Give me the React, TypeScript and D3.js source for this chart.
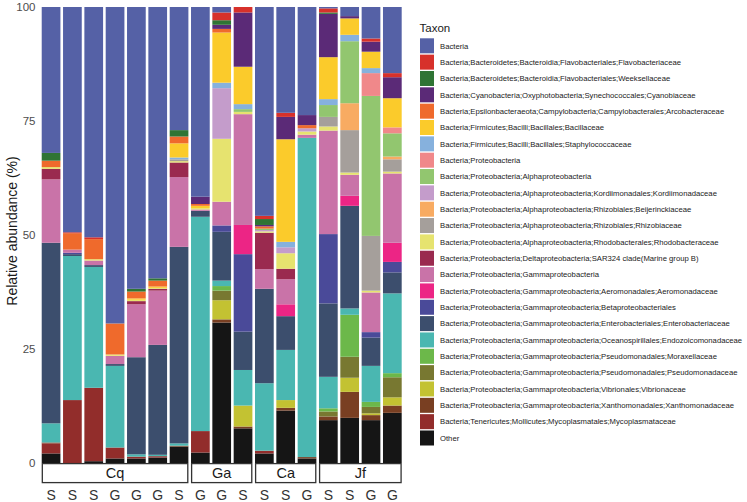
import React from 'react';
import * as d3 from 'd3';

// taxa, legend order (top of stack first)
const taxa = [
  'Bacteria',
  'Bacteria;Bacteroidetes;Bacteroidia;Flavobacteriales;Flavobacteriaceae',
  'Bacteria;Bacteroidetes;Bacteroidia;Flavobacteriales;Weeksellaceae',
  'Bacteria;Cyanobacteria;Oxyphotobacteria;Synechococcales;Cyanobiaceae',
  'Bacteria;Epsilonbacteraeota;Campylobacteria;Campylobacterales;Arcobacteraceae',
  'Bacteria;Firmicutes;Bacilli;Bacillales;Bacillaceae',
  'Bacteria;Firmicutes;Bacilli;Bacillales;Staphylococcaceae',
  'Bacteria;Proteobacteria',
  'Bacteria;Proteobacteria;Alphaproteobacteria',
  'Bacteria;Proteobacteria;Alphaproteobacteria;Kordiimonadales;Kordiimonadaceae',
  'Bacteria;Proteobacteria;Alphaproteobacteria;Rhizobiales;Beijerinckiaceae',
  'Bacteria;Proteobacteria;Alphaproteobacteria;Rhizobiales;Rhizobiaceae',
  'Bacteria;Proteobacteria;Alphaproteobacteria;Rhodobacterales;Rhodobacteraceae',
  'Bacteria;Proteobacteria;Deltaproteobacteria;SAR324 clade(Marine group B)',
  'Bacteria;Proteobacteria;Gammaproteobacteria',
  'Bacteria;Proteobacteria;Gammaproteobacteria;Aeromonadales;Aeromonadaceae',
  'Bacteria;Proteobacteria;Gammaproteobacteria;Betaproteobacteriales',
  'Bacteria;Proteobacteria;Gammaproteobacteria;Enterobacteriales;Enterobacteriaceae',
  'Bacteria;Proteobacteria;Gammaproteobacteria;Oceanospirillales;Endozoicomonadaceae',
  'Bacteria;Proteobacteria;Gammaproteobacteria;Pseudomonadales;Moraxellaceae',
  'Bacteria;Proteobacteria;Gammaproteobacteria;Pseudomonadales;Pseudomonadaceae',
  'Bacteria;Proteobacteria;Gammaproteobacteria;Vibrionales;Vibrionaceae',
  'Bacteria;Proteobacteria;Gammaproteobacteria;Xanthomonadales;Xanthomonadaceae',
  'Bacteria;Tenericutes;Mollicutes;Mycoplasmatales;Mycoplasmataceae',
  'Other',
];

const taxonColors = [
  '#5561a6', '#d7312b', '#2f7434', '#5b2a77', '#ef6a2c', '#fbcb2b', '#86b1dd',
  '#f0888a', '#92c66f', '#c49ccb', '#f8ab62', '#a59f9b', '#e6e36f', '#9a2a4f',
  '#c973a8', '#ec2585', '#4a4a99', '#3c4e6d', '#4ab7b1', '#6cb84a', '#787831',
  '#c3c232', '#793f22', '#922d2b', '#151515',
];

const groups = ['Cq', 'Ga', 'Ca', 'Jf'];
const sampleGroup = ['Cq', 'Cq', 'Cq', 'Cq', 'Cq', 'Cq', 'Cq', 'Ga', 'Ga', 'Ga', 'Ca', 'Ca', 'Ca', 'Jf', 'Jf', 'Jf', 'Jf'];
const sampleType = ['S', 'S', 'S', 'G', 'G', 'G', 'S', 'G', 'G', 'S', 'S', 'S', 'G', 'S', 'S', 'G', 'G'];

// relative abundance (%) per sample, in taxa order
const cq1 = [32.0, 0, 1.7, 0, 1.4, 0, 0, 0, 0, 0, 0, 0, 0.4, 2.3, 13.9, 0, 0, 39.6, 4.2, 0, 0, 0, 0.2, 2.2, 2.1];
const cq2 = [49.4, 0.2, 0, 0, 3.6, 0, 0, 0, 0, 0, 0, 0, 0, 0, 0.7, 0, 0.3, 0.4, 31.6, 0, 0, 0, 0, 13.8, 0];
const cq3 = [50.5, 0.4, 0, 0, 4.4, 0, 0, 0, 0, 0, 0, 0, 0.3, 0, 1.0, 0, 0, 0.4, 26.5, 0, 0, 0, 0, 16.1, 0.4];
const cq4 = [69.4, 0, 0, 0, 6.8, 0, 0, 0, 0, 0, 0, 0, 0.3, 0, 1.8, 0, 0, 0.4, 17.9, 0, 0, 0, 0, 2.4, 1.0];
const cq5 = [61.8, 0, 0.6, 0, 1.5, 0.3, 0, 0, 0, 0, 0, 0, 0.3, 0.7, 11.6, 0, 0, 21.3, 0.5, 0, 0, 0, 0, 0.4, 1.0];
const cq6 = [59.5, 0, 0.5, 0, 1.3, 0.3, 0, 0, 0, 0, 0, 0, 0.2, 0.4, 11.9, 0, 0, 24.1, 0.3, 0, 0, 0, 0, 0.3, 1.2];
const cq7 = [27.0, 0, 1.4, 0, 1.5, 3.1, 0.4, 0, 0, 0, 0, 0.4, 0.3, 3.2, 15.3, 0, 0, 43.1, 0.5, 0, 0, 0, 0.2, 0, 3.6];
const ga1 = [41.6, 0, 0, 1.6, 0.4, 0.5, 0, 0, 0, 0, 0, 0, 0.3, 0, 0.3, 0, 0, 1.3, 47.0, 0, 0, 0, 0, 4.7, 2.3];
const ga2 = [1.2, 1.7, 1.0, 0.9, 0.8, 11.0, 1.2, 0, 0, 11.1, 0, 0, 13.8, 0, 5.2, 0, 1.4, 10.7, 1.2, 1.0, 2.1, 4.2, 0.7, 0, 30.8];
const ga3 = [0, 1.2, 0, 11.9, 0, 8.2, 1.1, 0, 0.6, 0, 0, 0, 0.5, 0, 24.3, 6.4, 17.0, 8.4, 7.8, 0, 0, 4.6, 0.4, 0, 7.6];
const ca1 = [45.8, 0.7, 1.3, 0.3, 0.5, 0, 0, 0, 0.3, 0.3, 0, 0, 0.3, 8.0, 4.3, 0, 0, 20.7, 14.8, 0, 0, 0, 0, 0.6, 2.1];
const ca2 = [23.2, 0.9, 0, 4.9, 0, 22.5, 1.2, 0, 0, 1.3, 0, 0, 3.4, 2.3, 5.5, 2.6, 0, 7.4, 11.0, 0, 0, 1.7, 0.6, 0, 11.5];
const ca3 = [23.7, 0, 0, 2.2, 0.7, 0, 0, 0, 0, 0.7, 0, 0, 0.7, 0, 0.7, 0, 0, 0, 70.0, 0, 0, 0, 0.3, 0, 1.0];
const jf1 = [0.3, 0.9, 0.3, 9.5, 0, 9.2, 1.3, 0, 2.6, 0, 0, 2.1, 0.9, 0, 22.7, 0, 15.2, 16.1, 6.9, 0.7, 1.1, 0, 0.8, 0, 9.4];
const jf2 = [2.0, 0, 0, 0.5, 0, 3.6, 1.4, 0, 13.6, 0, 5.9, 9.3, 0.5, 0, 4.6, 2.2, 0, 22.5, 1.4, 9.2, 4.6, 3.1, 5.7, 0, 9.9];
const jf3 = [6.9, 0.7, 0, 2.2, 0, 3.6, 1.1, 5.0, 30.7, 0, 0, 12.0, 0.4, 0, 8.7, 0, 1.2, 6.2, 7.9, 1.1, 1.4, 0.4, 1.1, 0, 9.4];
const jf4 = [14.5, 0.9, 0, 4.6, 0, 6.4, 0, 1.3, 5.1, 0, 0.6, 2.7, 0.4, 0, 15.2, 4.2, 2.3, 4.6, 17.5, 0.9, 4.4, 1.8, 1.6, 0, 11.0];

const sampleValues = [cq1, cq2, cq3, cq4, cq5, cq6, cq7, ga1, ga2, ga3, ca1, ca2, ca3, jf1, jf2, jf3, jf4];
const yTicks = [0, 25, 50, 75, 100];

const W = 747;
const H = 502;
const plot = { left: 40.4, right: 403, top: 7, bottom: 463 };

export default function App() {
  const ids = sampleValues.map((_, i) => `s${i}`);
  const x = d3.scaleBand<string>().domain(ids).range([plot.left, plot.right])
    .paddingInner(0.123).paddingOuter(0.0615);
  const y = d3.scaleLinear().domain([0, 100]).range([plot.bottom, plot.top]);

  const rows = sampleValues.map((vals, i) => {
    const r: Record<string, number | string> = { id: ids[i] };
    taxa.forEach((t, j) => { r[t] = vals[j]; });
    return r;
  });
  // bottom of stack = last legend entry
  const stack = d3.stack<any>().keys([...taxa].reverse());
  const series = stack(rows);
  const color = d3.scaleOrdinal<string, string>().domain(taxa).range(taxonColors);

  const font = 'Arial, "Liberation Sans", Helvetica, sans-serif';
  const legendY = d3.scaleLinear().domain([0, taxa.length - 1]).range([45.8, 438]);

  return (
    <div style={{ position: 'absolute', left: 0, top: 0 }}>
      <svg width={W} height={H} style={{ display: 'block', fontFamily: font }}>
        <rect width={W} height={H} fill="#fff" />
        {series.map(s => (
          <g key={s.key} fill={color(s.key)}>
            {s.map((d, i) => {
              const h = y(d[0]) - y(d[1]);
              if (h <= 0) return null;
              return <rect key={i} x={x(ids[i])} width={x.bandwidth()} y={y(d[1])} height={h} />;
            })}
          </g>
        ))}

        {yTicks.map(t => (
          <text key={t} x={35.5} y={y(t)} dy="0.36em" textAnchor="end" fontSize={11.5} fill="#4d4d4d">{t}</text>
        ))}
        <text transform={`translate(17,${(plot.top + plot.bottom) / 2 - 4}) rotate(-90)`} textAnchor="middle" fontSize={14} fill="#1a1a1a">Relative abundance (%)</text>

        {groups.map(g => {
          const idx = sampleGroup.map((sg, i) => (sg === g ? i : -1)).filter(i => i >= 0);
          const x0 = x(ids[idx[0]])!;
          const x1 = x(ids[idx[idx.length - 1]])! + x.bandwidth();
          return (
            <g key={g}>
              <rect x={x0 + 0.6} y={plot.bottom + 0.6} width={x1 - x0 - 1.2} height={19} fill="#fff" stroke="#333" strokeWidth={1.3} />
              <text x={(x0 + x1) / 2} y={plot.bottom + 15} textAnchor="middle" fontSize={14.5} fill="#1a1a1a">{g}</text>
            </g>
          );
        })}
        {sampleType.map((t, i) => (
          <text key={i} x={x(ids[i])! + x.bandwidth() / 2} y={500} textAnchor="middle" fontSize={14} fill="#333">{t}</text>
        ))}

        <text x={419.5} y={32} fontSize={11.5} fill="#1a1a1a">Taxon</text>
        {taxa.map((t, i) => (
          <g key={t} transform={`translate(420,${legendY(i)})`}>
            <rect x={0} y={-7.5} width={14} height={15} fill={color(t)} />
            <text x={20} y={0} dy="0.35em" fontSize={7.7} fill="#1a1a1a">{t}</text>
          </g>
        ))}
      </svg>
    </div>
  );
}
